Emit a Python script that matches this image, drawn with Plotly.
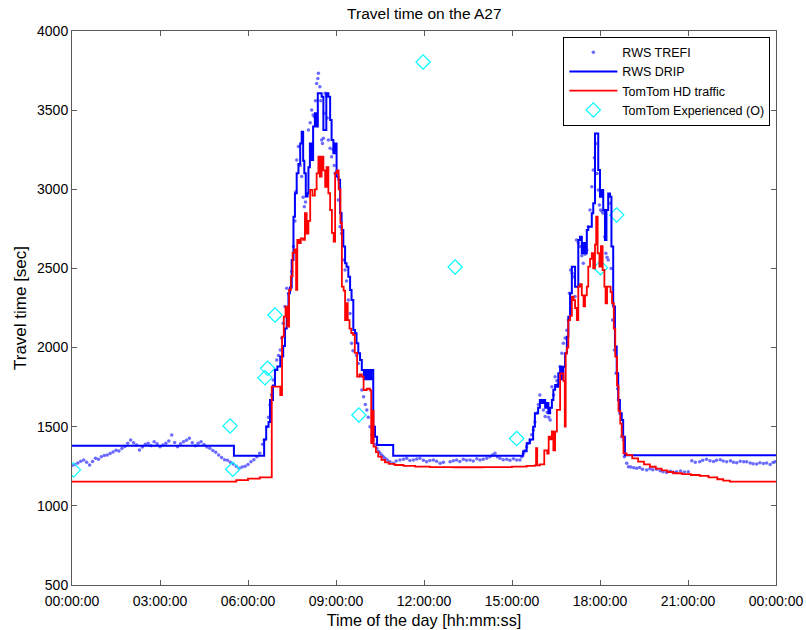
import pandas as pd
import plotly.graph_objects as go

# ---- data: time of day in hours, travel time in seconds ----
trefi_h = [0.00, 0.10, 0.20, 0.30, 0.40, 0.50, 0.60, 0.70, 0.80, 0.90, 1.00, 1.10, 1.20, 1.30, 1.40,
           1.50, 1.60, 1.70, 1.80, 1.90, 2.00, 2.10, 2.20, 2.30, 2.40, 2.50, 2.60, 2.70, 2.80, 2.90,
           3.00, 3.10, 3.20, 3.30, 3.40, 3.50, 3.60, 3.70, 3.80, 3.90, 4.00, 4.10, 4.20, 4.30, 4.40,
           4.50, 4.60, 4.70, 4.80, 4.90, 5.00, 5.10, 5.20, 5.30, 5.40, 5.50, 5.60, 5.70, 5.80, 5.90,
           6.00, 6.10, 6.20, 6.30, 6.40, 6.50, 6.55, 6.64, 6.70, 6.75, 6.80, 6.86, 6.92, 6.98, 7.04,
           7.10, 7.15, 7.20, 7.26, 7.32, 7.38, 7.43, 7.49, 7.55, 7.60, 7.63, 7.66, 7.72, 7.78, 7.83,
           7.88, 7.92, 7.96, 8.00, 8.06, 8.12, 8.17, 8.22, 8.26, 8.30, 8.34, 8.38, 8.40, 8.45, 8.48,
           8.51, 8.54, 8.57, 8.60, 8.63, 8.67, 8.70, 8.74, 8.80, 8.85, 8.90, 8.94, 8.97, 9.02, 9.08,
           9.14, 9.19, 9.25, 9.31, 9.36, 9.42, 9.48, 9.53, 9.58, 9.65, 9.70, 9.76, 9.82, 9.88, 9.94,
           10.00, 10.05, 10.10, 10.16, 10.22, 10.27, 10.33, 10.39, 10.45, 10.50, 10.56, 10.61, 10.67,
           10.75, 10.84, 10.95, 11.05, 11.18, 11.30, 11.41, 11.52, 11.64, 11.75, 11.86, 11.98, 12.09,
           12.20, 12.32, 12.43, 12.55, 12.66, 12.89, 13.00, 13.11, 13.22, 13.34, 13.45, 13.57, 13.68,
           13.80, 13.91, 14.02, 14.14, 14.25, 14.33, 14.42, 14.50, 14.59, 14.70, 14.82, 14.93, 15.05,
           15.16, 15.27, 15.33, 15.39, 15.45, 15.50, 15.55, 15.61, 15.67, 15.73, 15.78, 15.84, 15.90,
           15.95, 16.01, 16.07, 16.13, 16.20, 16.25, 16.30, 16.36, 16.42, 16.47, 16.53, 16.58, 16.64,
           16.70, 16.75, 16.81, 16.87, 16.92, 16.96, 17.00, 17.05, 17.10, 17.15, 17.20, 17.26, 17.32,
           17.38, 17.43, 17.49, 17.55, 17.60, 17.66, 17.72, 17.77, 17.81, 17.85, 17.90, 17.94, 17.98,
           18.02, 18.07, 18.11, 18.16, 18.20, 18.24, 18.28, 18.34, 18.38, 18.43, 18.49, 18.55, 18.60,
           18.63, 18.68, 18.74, 18.80, 18.83, 18.91, 18.97, 19.05, 19.15, 19.25, 19.35, 19.45, 19.59,
           19.70, 19.80, 19.93, 20.05, 20.15, 20.27, 20.40, 20.50, 20.61, 20.75, 20.88, 21.01, 21.13,
           21.25, 21.40, 21.50, 21.63, 21.75, 21.87, 21.97, 22.10, 22.20, 22.32, 22.45, 22.55, 22.66,
           22.78, 22.90, 23.00, 23.12, 23.22, 23.34, 23.45, 23.57, 23.68, 23.80, 23.90, 23.97]
trefi_s = [1255, 1262, 1270, 1282, 1290, 1275, 1258, 1280, 1300, 1295, 1310, 1318, 1322, 1330, 1340,
           1352, 1346, 1362, 1375, 1395, 1416, 1398, 1385, 1353, 1372, 1390, 1395, 1380, 1405, 1392,
           1374, 1385, 1395, 1410, 1448, 1400, 1374, 1392, 1405, 1415, 1427, 1398, 1380, 1395, 1405,
           1388, 1372, 1364, 1350, 1338, 1321, 1305, 1292, 1288, 1275, 1265, 1250, 1237, 1245, 1250,
           1262, 1278, 1292, 1310, 1332, 1390, 1416, 1500, 1560, 1637, 1700, 1795, 1860, 1922, 1950,
           1985, 2060, 2153, 2260, 2375, 2340, 2364, 2480, 2638, 2800, 2985, 3185, 3270, 3150, 3080,
           2950, 2890, 2920, 2964, 3375, 3420, 3501, 3470, 3459, 3560, 3669, 3700, 3733, 3648, 3560,
           3311, 3290, 3322, 3480, 3606, 3590, 3450, 3311, 3260, 3206, 3250, 3150, 3101, 3110, 2933,
           2764, 2720, 2553, 2490, 2420, 2301, 2216, 2027, 1980, 2090, 1950, 1900, 1820, 1732, 1690,
           1640, 1606, 1560, 1500, 1450, 1416, 1390, 1364, 1345, 1332, 1320, 1311, 1300,
           1290, 1279, 1269, 1283, 1290, 1295, 1300, 1286, 1290, 1296, 1300, 1288, 1279,
           1286, 1290, 1282, 1269, 1275, 1279, 1285, 1290, 1280, 1294, 1288, 1290, 1284,
           1297, 1290, 1294, 1300, 1311, 1322, 1332, 1310, 1300, 1292, 1294, 1288, 1297,
           1290, 1290, 1310, 1332, 1350, 1374, 1395, 1416, 1450, 1479, 1530, 1585, 1640,
           1700, 1660, 1606, 1564, 1590, 1560, 1542, 1753, 1700, 1816, 1790, 1770, 1880,
           1964, 2027, 2060, 2110, 2174, 2343, 2490, 2470, 2448, 2322, 2680, 2660, 2638,
           2580, 2532, 2590, 2617, 2764, 2869, 3016, 3122, 3200, 3290, 3100, 2996, 2900,
           2869, 2860, 2848, 2700, 2596, 2570, 2553, 2911, 2500, 2174, 1985, 1837, 1740,
           1669, 1585, 1437, 1416, 1311, 1269, 1247, 1245, 1240, 1237, 1242, 1232, 1227,
           1235, 1228, 1231, 1222, 1215, 1210, 1218, 1212, 1216, 1220, 1214, 1216, 1285,
           1275, 1279, 1288, 1295, 1285, 1280, 1288, 1292, 1284, 1279, 1285, 1275, 1272,
           1282, 1278, 1279, 1270, 1266, 1264, 1272, 1268, 1270, 1262, 1274, 1279]

drip_h = [0.00, 5.52, 6.55, 6.62, 6.70, 6.75, 6.85, 6.92, 7.00, 7.10, 7.20, 7.26, 7.32, 7.38, 7.43,
          7.49, 7.55, 7.60, 7.66, 7.72, 7.78, 7.83, 7.88, 7.92, 7.97, 8.03, 8.06, 8.11, 8.17, 8.22,
          8.28, 8.32, 8.38, 8.45, 8.51, 8.57, 8.63, 8.67, 8.74, 8.80, 8.85, 8.91, 8.97, 9.02, 9.08,
          9.14, 9.19, 9.25, 9.31, 9.36, 9.42, 9.48, 9.53, 9.59, 9.65, 9.70, 9.76, 9.82, 9.88, 9.95,
          10.00, 10.05, 10.10, 10.15, 10.20, 10.27, 10.33, 10.40, 10.95, 15.38, 15.50, 15.61, 15.72,
          15.78, 15.89, 15.95, 16.01, 16.07, 16.13, 16.19, 16.24, 16.30, 16.36, 16.41, 16.47, 16.53,
          16.58, 16.64, 16.70, 16.75, 16.81, 16.87, 16.92, 16.98, 17.04, 17.10, 17.15, 17.21, 17.26,
          17.32, 17.38, 17.43, 17.49, 17.55, 17.60, 17.66, 17.72, 17.77, 17.83, 17.88, 17.94, 18.00,
          18.05, 18.11, 18.17, 18.22, 18.28, 18.34, 18.39, 18.45, 18.51, 18.57, 18.62, 18.68, 18.74,
          18.79, 18.85, 24.00]
drip_s = [1380, 1317, 1420, 1500, 1530, 1669, 1760, 1858, 1880, 1943, 2010, 2120, 2216, 2343, 2380,
          2553, 2827, 2975, 3101, 3160, 3290, 3364, 3180, 3101, 2954, 2975, 3140, 3290, 3185, 3396,
          3480, 3396, 3606, 3606, 3585, 3375, 3375, 3606, 3585, 3438, 3311, 3227, 3290, 3080, 3060,
          2850, 2743, 2638, 2532, 2510, 2448, 2364, 2300, 2111, 2090, 2027, 1964, 1922, 1858, 1800,
          1858, 1800, 1858, 1800, 1858, 1500, 1437, 1385, 1317, 1345, 1395, 1420, 1500,
          1585, 1620, 1669, 1650, 1669, 1620, 1650, 1585, 1620, 1669, 1733, 1764, 1753,
          1837, 1879, 1800, 1879, 1964, 2069, 2195, 2343, 2511, 2511, 2385, 2385, 2680,
          2700, 2596, 2660, 2596, 2743, 2764, 2764, 2848, 2911, 3353, 3353, 3122, 2953,
          2995, 2869, 2680, 2869, 2974, 2953, 2638, 2259, 2006, 1838, 1669, 1585, 1542,
          1437, 1320, 1320]

hd_h = [0.00, 5.32, 5.60, 6.00, 6.40, 6.81, 7.10, 7.16, 7.22, 7.28, 7.34, 7.40, 7.46, 7.52, 7.58,
        7.64, 7.68, 7.74, 7.80, 7.88, 7.94, 8.00, 8.06, 8.12, 8.20, 8.28, 8.34, 8.40, 8.45, 8.51,
        8.57, 8.63, 8.68, 8.74, 8.80, 8.86, 8.92, 8.97, 9.03, 9.09, 9.15, 9.20, 9.26, 9.31, 9.36,
        9.40, 9.46, 9.52, 9.58, 9.64, 9.72, 9.80, 9.88, 9.94, 10.05, 10.16, 10.20, 10.24, 10.28,
        10.36, 10.44, 10.55, 10.67, 10.80, 11.00, 11.30, 11.70, 12.20, 13.00, 14.00, 15.00, 15.50,
        15.78, 15.82, 15.86, 15.95, 16.10, 16.15, 16.20, 16.25, 16.30, 16.36, 16.41, 16.47, 16.53,
        16.59, 16.64, 16.70, 16.75, 16.80, 16.83, 16.87, 16.92, 16.98, 17.04, 17.10, 17.15, 17.21,
        17.26, 17.32, 17.38, 17.44, 17.49, 17.55, 17.60, 17.66, 17.72, 17.77, 17.83, 17.87, 17.92,
        17.98, 18.03, 18.09, 18.15, 18.19, 18.24, 18.30, 18.36, 18.41, 18.47, 18.52, 18.58, 18.63,
        18.69, 18.74, 18.80, 18.91, 19.10, 19.30, 19.50, 19.70, 19.90, 20.10, 20.30, 20.50, 20.80,
        21.10, 21.40, 21.70, 22.00, 22.20, 22.43, 24.00]
hd_s = [1153, 1153, 1162, 1172, 1180, 1753, 1700, 2069, 2195, 2258, 2132, 2364, 2450, 2598, 2620,
        2364, 2680, 2660, 2690, 2680, 2850, 2720, 2800, 2996, 2960, 3000, 3100, 3206, 3080, 3206,
        3120, 3016, 3140, 2975, 2869, 2724, 2669, 3103, 3120, 3000, 2787, 2385, 2360, 2174, 2280,
        2174, 2120, 2092, 2080, 1966, 1816, 1830, 1816, 1732, 1740, 1730, 1397, 1600, 1374,
        1340, 1311, 1290, 1275, 1265, 1258, 1252, 1248, 1245, 1244, 1245, 1248, 1252,
        1256, 1364, 1256, 1262, 1350, 1350, 1330, 1437, 1420, 1470, 1350, 1469, 1606,
        1606, 1837, 1837, 1790, 1500, 1964, 2000, 2174, 2200, 2322, 2300, 2250, 2174,
        2385, 2400, 2330, 2260, 2330, 2385, 2511, 2560, 2596, 2500, 2650, 2827, 2596,
        2511, 2640, 2490, 2385, 2280, 2385, 2385, 2350, 2280, 2120, 1943, 1760, 1600,
        1520, 1437, 1332, 1321, 1300, 1280, 1262, 1247, 1235, 1224, 1214, 1206, 1200,
        1195, 1189, 1180, 1168, 1160, 1153, 1153]

exp_h = [0.05, 5.39, 5.48, 6.58, 6.67, 6.92, 9.78, 11.97, 13.06, 15.16, 18.02, 18.57]
exp_s = [1227, 1505, 1231, 1810, 1869, 2206, 1574, 3804, 2509, 1425, 2505, 2838]

x_ticks_h = [0, 3, 6, 9, 12, 15, 18, 21, 24]

day0 = pd.Timestamp("2000-01-01")


def to_time(hours):
    return day0 + pd.to_timedelta(pd.Series(hours, dtype=float), unit="h")


FONT = "Liberation Sans, Arial, sans-serif"
AXIS_COL = "#5a5a5a"

fig = go.Figure()
fig.add_trace(go.Scatter(
    x=to_time(trefi_h), y=trefi_s, mode="markers", name="RWS TREFI", legendrank=1,
    marker=dict(symbol="circle", size=3.5, color="rgba(70,70,255,0.8)", line=dict(width=0)),
))
fig.add_trace(go.Scatter(
    x=to_time(exp_h), y=exp_s, mode="markers", name="TomTom Experienced (O)", legendrank=4,
    marker=dict(symbol="diamond-open", size=11, color="#00ffff", line=dict(width=1.2, color="#00ffff")),
))
fig.add_trace(go.Scatter(
    x=to_time(drip_h), y=drip_s, mode="lines", name="RWS DRIP", legendrank=2,
    line=dict(color="#0000ff", width=2, shape="hv"),
))
fig.add_trace(go.Scatter(
    x=to_time(hd_h), y=hd_s, mode="lines", name="TomTom HD traffic", legendrank=3,
    line=dict(color="#ff0000", width=1.8, shape="hv"),
))

tick_vals = list(to_time(x_ticks_h))

fig.update_layout(
    width=806, height=630,
    margin=dict(l=72, r=30, t=31, b=45, autoexpand=False),
    paper_bgcolor="white", plot_bgcolor="white",
    font=dict(family=FONT, size=14, color="#000000"),
    title=dict(text="Travel time on the A27", x=0.5265, xanchor="center",
               y=0.978, yanchor="middle", font=dict(size=15.5)),
    showlegend=True,
    legend=dict(x=0.992, y=0.99, xanchor="right", yanchor="top",
                bgcolor="white", bordercolor="#000000", borderwidth=1,
                font=dict(size=12.5), itemwidth=48, tracegroupgap=0),
)
fig.update_xaxes(
    type="date", range=[tick_vals[0], tick_vals[-1]],
    tickvals=tick_vals, tickformat="%H:%M:%S",
    showgrid=False, zeroline=False, automargin=False,
    showline=True, linecolor=AXIS_COL, linewidth=1, mirror="ticks",
    ticks="inside", ticklen=5, tickcolor=AXIS_COL, ticklabelstandoff=3,
    title=dict(text="Time of the day [hh:mm:ss]", standoff=6, font=dict(size=16.2)),
)
fig.update_yaxes(
    range=[500, 4000], dtick=500, tick0=500,
    showgrid=False, zeroline=False, automargin=False,
    showline=True, linecolor=AXIS_COL, linewidth=1, mirror="ticks",
    ticks="inside", ticklen=5, tickcolor=AXIS_COL,
    title=dict(text="Travel time [sec]", standoff=6, font=dict(size=17)),
)

fig.write_html("out.html")
